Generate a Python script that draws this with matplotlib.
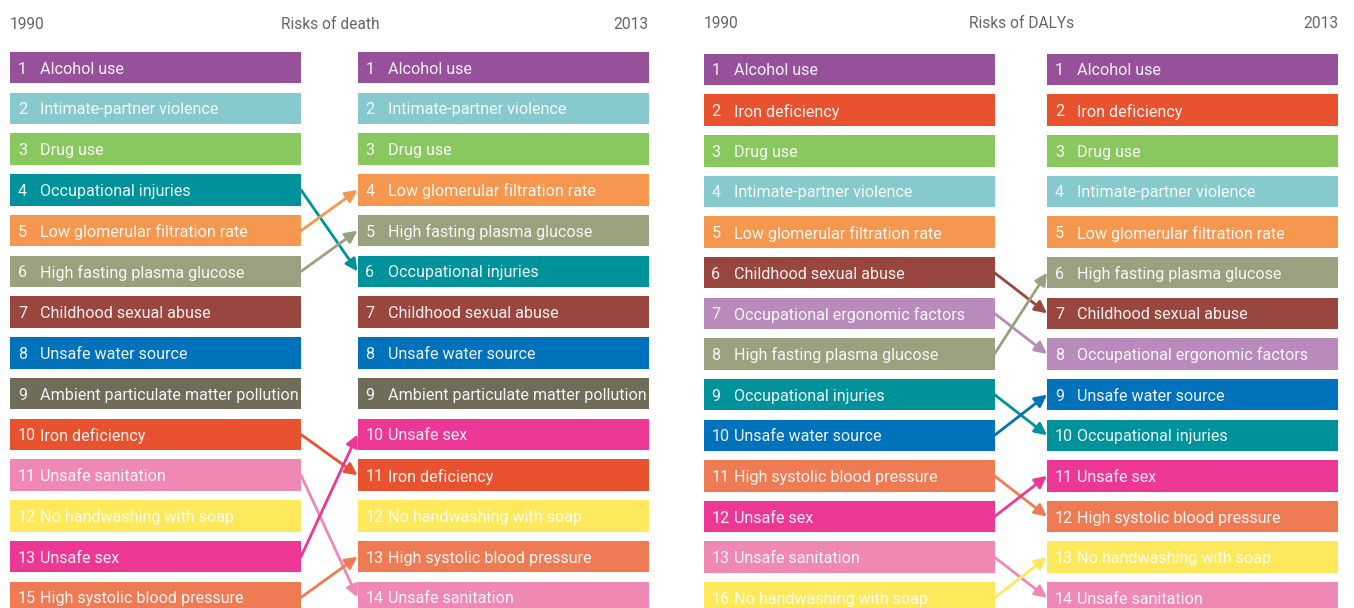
import matplotlib
matplotlib.use("Agg")
import matplotlib.pyplot as plt

plt.rcParams['font.family'] = ['Roboto', 'DejaVu Sans']

# ---- data ----
death_title = "Risks of death"
death_ranks_1990 = [1, 2, 3, 4, 5, 6, 7, 8, 9, 10, 11, 12, 13, 15]
death_risks_1990 = ["Alcohol use", "Intimate-partner violence", "Drug use",
                    "Occupational injuries", "Low glomerular filtration rate",
                    "High fasting plasma glucose", "Childhood sexual abuse",
                    "Unsafe water source", "Ambient particulate matter pollution",
                    "Iron deficiency", "Unsafe sanitation", "No handwashing with soap",
                    "Unsafe sex", "High systolic blood pressure"]
death_ranks_2013 = list(range(1, 15))
death_risks_2013 = ["Alcohol use", "Intimate-partner violence", "Drug use",
                    "Low glomerular filtration rate", "High fasting plasma glucose",
                    "Occupational injuries", "Childhood sexual abuse",
                    "Unsafe water source", "Ambient particulate matter pollution",
                    "Unsafe sex", "Iron deficiency", "No handwashing with soap",
                    "High systolic blood pressure", "Unsafe sanitation"]

daly_title = "Risks of DALYs"
daly_ranks_1990 = [1, 2, 3, 4, 5, 6, 7, 8, 9, 10, 11, 12, 13, 16]
daly_risks_1990 = ["Alcohol use", "Iron deficiency", "Drug use",
                   "Intimate-partner violence", "Low glomerular filtration rate",
                   "Childhood sexual abuse", "Occupational ergonomic factors",
                   "High fasting plasma glucose", "Occupational injuries",
                   "Unsafe water source", "High systolic blood pressure",
                   "Unsafe sex", "Unsafe sanitation", "No handwashing with soap"]
daly_ranks_2013 = list(range(1, 15))
daly_risks_2013 = ["Alcohol use", "Iron deficiency", "Drug use",
                   "Intimate-partner violence", "Low glomerular filtration rate",
                   "High fasting plasma glucose", "Childhood sexual abuse",
                   "Occupational ergonomic factors", "Unsafe water source",
                   "Occupational injuries", "Unsafe sex", "High systolic blood pressure",
                   "No handwashing with soap", "Unsafe sanitation"]

colors = {
    "Alcohol use": "#97519a",
    "Intimate-partner violence": "#86cace",
    "Drug use": "#89c75f",
    "Occupational injuries": "#00929b",
    "Low glomerular filtration rate": "#f6974f",
    "High fasting plasma glucose": "#99a17e",
    "Childhood sexual abuse": "#99463f",
    "Unsafe water source": "#0071bb",
    "Ambient particulate matter pollution": "#6f6c5a",
    "Iron deficiency": "#e8522e",
    "Unsafe sanitation": "#f088b6",
    "No handwashing with soap": "#fee85c",
    "Unsafe sex": "#ec3795",
    "High systolic blood pressure": "#ee7b54",
    "Occupational ergonomic factors": "#b98bbc",
}

W, H = 1354, 608
fig = plt.figure(figsize=(W / 100, H / 100), dpi=100)

BOX_W = 291
BOX_H = 0.775
FS = 11.6
HEAD_FS = 11.2
TXT = "#646567"


def draw_panel(title, r90, k90, r13, k13, x90, x13, ylim, head_y):
    ax = fig.add_axes([0, 0, 1, 1])
    ax.set_xlim(0, W)
    ax.set_ylim(*ylim)
    ax.axis("off")
    ax.patch.set_alpha(0)

    rows = list(range(1, len(k90) + 1))
    ax.barh(rows, BOX_W, left=x90, height=BOX_H,
            color=[colors[k] for k in k90], zorder=2)
    ax.barh(rows, BOX_W, left=x13, height=BOX_H,
            color=[colors[k] for k in k13], zorder=2)

    for x0, ranks, keys in [(x90, r90, k90), (x13, r13, k13)]:
        for row, rk, k in zip(rows, ranks, keys):
            ax.text(x0 + 8, row, str(rk), color="white", alpha=0.92,
                    fontsize=FS, va="center_baseline", ha="left", zorder=3)
            ax.text(x0 + 30, row, k, color="white", alpha=0.92,
                    fontsize=FS, va="center_baseline", ha="left", zorder=3)

    # arrows for risks whose rank moved
    for row, k in enumerate(k90, start=1):
        if k in k13:
            row13 = k13.index(k) + 1
            if row13 != row:
                ax.annotate("", xy=(x13, row13), xytext=(x90 + BOX_W, row),
                            arrowprops=dict(arrowstyle="-|>", color=colors[k],
                                            lw=2.0, mutation_scale=18,
                                            shrinkA=0, shrinkB=0), zorder=1)

    ax.text(x90, head_y, "1990", color=TXT, fontsize=HEAD_FS, ha="left", va="center")
    ax.text(x13 + BOX_W, head_y, "2013", color=TXT, fontsize=HEAD_FS, ha="right", va="center")
    ax.text((x90 + x13 + BOX_W) / 2 + 1, head_y, title, color=TXT, fontsize=HEAD_FS,
            ha="center", va="center")


draw_panel(death_title, death_ranks_1990, death_risks_1990,
           death_ranks_2013, death_risks_2013, 10, 357.5,
           (14.259, -0.661), -0.07)
draw_panel(daly_title, daly_ranks_1990, daly_risks_1990,
           daly_ranks_2013, daly_risks_2013, 703.5, 1047,
           (14.25, -0.710), -0.12)

fig.savefig("out.png", dpi=100)
